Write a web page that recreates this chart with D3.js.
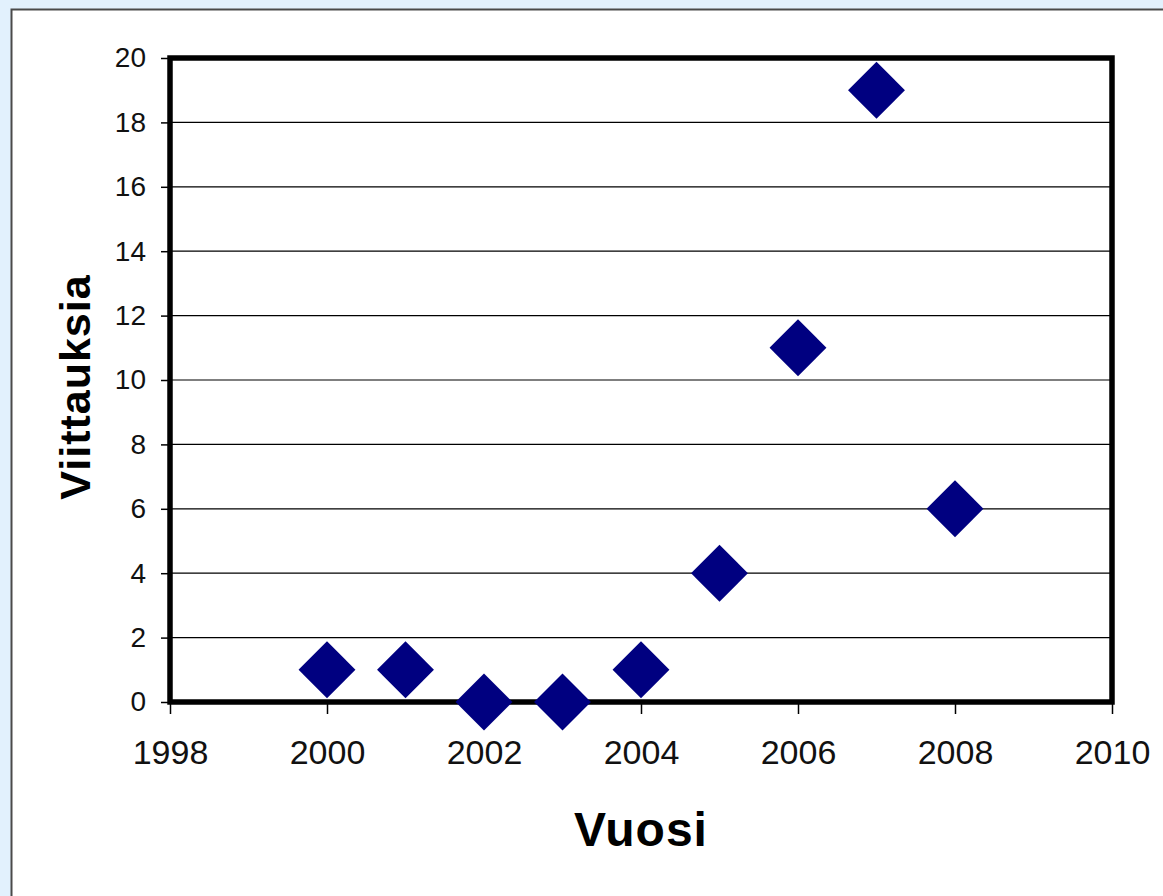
<!DOCTYPE html>
<html>
<head>
<meta charset="utf-8">
<script src="https://cdn.jsdelivr.net/npm/d3@7"></script>
<style>
  html, body { margin: 0; padding: 0; background: #e2f1fd; }
  svg { display: block; }
</style>
</head>
<body>
<div class="chart"></div>
<script>
"use strict";

const years = [2000, 2001, 2002, 2003, 2004, 2005, 2006, 2007, 2008];
const citations = [1, 1, 0, 0, 1, 4, 11, 19, 6];
const xTicks = [1998, 2000, 2002, 2004, 2006, 2008, 2010];
const yTicks = [0, 2, 4, 6, 8, 10, 12, 14, 16, 18, 20];

const data = years.map((y, i) => ({ year: y, value: citations[i] }));

const W = 1163, H = 896;
const margin = { top: 58, right: 51, bottom: 194, left: 170 };
const width = W - margin.left - margin.right;
const height = H - margin.top - margin.bottom;

const root = d3.select(".chart").append("svg")
  .attr("width", W)
  .attr("height", H);

// white panel with its dark edge
root.append("rect")
  .attr("x", 11.5).attr("y", 9.5)
  .attr("width", W + 20).attr("height", H + 20)
  .attr("fill", "#fff")
  .attr("stroke", "#4a4a4a")
  .attr("stroke-width", 2);

const svg = root.append("g")
  .attr("transform", `translate(${margin.left},${margin.top})`);

const x = d3.scaleLinear().domain([1998, 2010]).range([0, width]);
const y = d3.scaleLinear().domain([0, 20]).range([height, 0]);

// grid lines
svg.append("g")
  .selectAll("line")
  .data(yTicks.slice(1, -1))
  .join("line")
  .attr("x1", 0).attr("x2", width)
  .attr("y1", (d) => y(d)).attr("y2", (d) => y(d))
  .attr("stroke", "#000")
  .attr("stroke-width", 1.2);

const xAxis = d3.axisBottom(x).tickValues(xTicks).tickFormat(d3.format("d"))
  .tickSizeInner(12).tickSizeOuter(0).tickPadding(26);
const yAxis = d3.axisLeft(y).tickValues(yTicks)
  .tickSizeInner(9).tickSizeOuter(0).tickPadding(15);

svg.append("g")
  .attr("transform", `translate(0,${height})`)
  .call(xAxis)
  .call((g) => g.select(".domain").remove())
  .call((g) => g.selectAll(".tick line").attr("stroke", "#000").attr("stroke-width", 1.5))
  .call((g) => g.selectAll("text")
    .attr("font-family", "'Liberation Sans', Arial, sans-serif")
    .attr("font-size", 34)
    .attr("fill", "#111"));

svg.append("g")
  .call(yAxis)
  .call((g) => g.select(".domain").remove())
  .call((g) => g.selectAll(".tick line").attr("stroke", "#000").attr("stroke-width", 1.5))
  .call((g) => g.selectAll("text")
    .attr("font-family", "'Liberation Sans', Arial, sans-serif")
    .attr("font-size", 28)
    .attr("fill", "#111"));

// thick frame
svg.append("rect")
  .attr("x", 0).attr("y", 0)
  .attr("width", width).attr("height", height)
  .attr("fill", "none")
  .attr("stroke", "#000")
  .attr("stroke-width", 5.5);

// diamonds
const diamond = d3.symbol().type(d3.symbolSquare).size(1620);
svg.append("g")
  .selectAll("path")
  .data(data)
  .join("path")
  .attr("d", diamond)
  .attr("transform", (d) => `translate(${x(d.year)},${y(d.value)}) rotate(45)`)
  .attr("fill", "#000080");

// axis titles
svg.append("text")
  .attr("x", width / 2)
  .attr("y", 846 - margin.top)
  .attr("text-anchor", "middle")
  .attr("font-family", "'Liberation Sans', Arial, sans-serif")
  .attr("font-weight", "bold")
  .attr("font-size", 48)
  .attr("letter-spacing", 1)
  .text("Vuosi");

svg.append("text")
  .attr("transform", `translate(${90 - margin.left},${387 - margin.top}) rotate(-90)`)
  .attr("text-anchor", "middle")
  .attr("font-family", "'Liberation Sans', Arial, sans-serif")
  .attr("font-weight", "bold")
  .attr("font-size", 43)
  .attr("letter-spacing", 1)
  .text("Viittauksia");
</script>
</body>
</html>
